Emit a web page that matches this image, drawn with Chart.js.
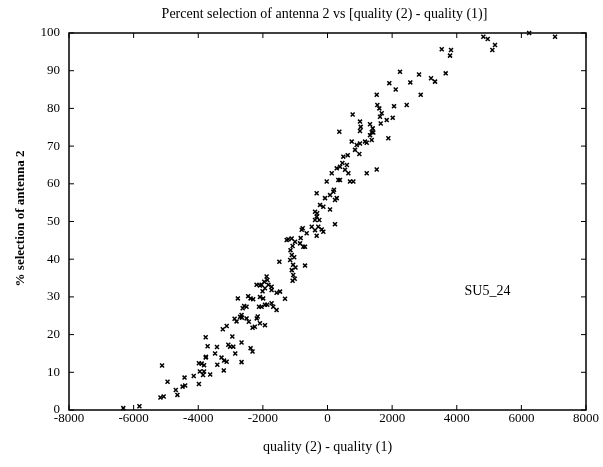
<!DOCTYPE html>
<html>
<head>
<meta charset="utf-8">
<script src="https://cdn.jsdelivr.net/npm/chart.js@4/dist/chart.umd.min.js"></script>
<style>
html, body { margin: 0; padding: 0; background: #fff; }
</style>
</head>
<body>
<canvas id="grafico" width="603" height="467"></canvas>
<script>
// valores: diferenca de qualidade (x) e % de selecao da antena 2 (y)
var qualityDiff = [
  -6320, -5820, -5170, -5070, -5120, -4950, -4695, -4645, -4485, -4405,
  -4425, -4140, -3980, -3980, -3895, -3820, -3950, -3820, -3850, -3770,
  -3630, -3770, -3710, -3760, -3480, -3420, -3410, -3280, -3200, -3120,
  -3210, -3240, -3120, -2945, -3070, -3015, -2915, -2855, -2875, -2815,
  -2660, -2660, -2775, -2625, -2580, -2660, -2650, -2705, -2505, -2435,
  -2505, -2455, -2380, -2300, -2320, -2250, -2380, -2320, -2195, -2160,
  -2120, -2090, -1935, -2190, -2040, -1730, -1885, -1860, -1830, -1935,
  -2090, -1730, -1575, -1470, -1315, -2090, -1990, -1935, -1865, -1730,
  -1680, -1575, -2040, -1490, -1080, -695, -1145, -1105, -1155, -1065,
  -1105, -1060, -1015, -1264, -1109, -1006, -851, -749, -1213, -830,
  -696, -798, -645, -767, -488, -386, -335, -179, -129, -285,
  232, -386, -335, -254, -386, -320, -129, 78, -335, -77,
  78, 180, -232, 232, 286, 201, -24, 131, 334, 387,
  696, 800, 387, 542, 646, 286, 1214, 1523, 490, 626,
  852, 985, 749, 904, 1006, 1214, 1369, 1161, 366, 1006,
  1316, 1418, 1883, 779, 1006, 1028, 1316, 1399, 1368, 1678,
  1625, 1833, 2018, 1647, 1523, 1543, 1604, 2059, 2451, 1913,
  2111, 2563, 2885, 2244, 2833, 3204, 3327, 3658, 3535, 3823,
  3792, 4823, 4959, 5102, 5184, 6240, 7042,
  -1030, -1080, -990, -2010, -1960, 460, 600
];
var percentSel = [
  0.5, 1, 3.3, 3.6, 11.8, 7.5, 5.3, 4, 6.2, 6.5,
  8.6, 9, 6.9, 12.4, 12.3, 11.9, 10.2, 10.2, 9.3, 13.9,
  9.4, 19.3, 16.9, 14.1, 15, 16.7, 12, 13.9, 13.1, 12.8,
  10.5, 21.4, 22.3, 19.5, 17.3, 16.8, 16.8, 15, 24.2, 23.5,
  17.9, 12.7, 29.6, 27, 27.6, 25.2, 24.5, 24.7, 24.3, 23.4,
  27.4, 30.2, 29.6, 29.4, 21.8, 22.1, 16.4, 15.5, 33.2, 24.8,
  27.4, 23, 22.5, 24.3, 33.2, 32.7, 35.4, 34.5, 33.2, 32.3,
  33, 31.8, 31.1, 31.4, 29.5, 30, 29.6, 27.9, 27.9, 28.3,
  27.4, 26.5, 27.4, 39.3, 34.3, 38.3, 42.4, 41.1, 39.8, 38.5,
  37.1, 35.8, 34.8, 45.1, 45.5, 44.6, 44.2, 43.3, 45.3, 45.6,
  43.3, 47.8, 46.9, 48.2, 48.6, 47.7, 46.2, 47.9, 47.3, 48.6,
  49.3, 52.6, 51.3, 50.4, 50.4, 52.2, 53.9, 53.2, 57.5, 56.2,
  57, 57.9, 54.4, 55.7, 56.2, 58.4, 60.6, 62.8, 61, 61,
  60.6, 60.6, 64.5, 63.7, 62.8, 64.1, 62.8, 63.8, 67.2, 67.6,
  69, 67.9, 71.2, 70.3, 70.7, 70.9, 71.6, 71.2, 73.8, 74,
  72.9, 73.6, 72.1, 78.4, 76.5, 75.1, 75.8, 74.7, 73.7, 78.7,
  77.8, 76.9, 77.5, 76, 83.6, 80.9, 80, 80.6, 80.9, 86.7,
  85, 86.9, 83.6, 89.7, 89, 88, 87.1, 89.3, 95.7, 95.5,
  94, 99, 98.4, 95.5, 96.8, 100, 99,
  40.5, 43.5, 37.8, 31.5, 34, 65.5, 65
];
var xTicks = [-8000, -6000, -4000, -2000, 0, 2000, 4000, 6000, 8000];
var yTicks = [0, 10, 20, 30, 40, 50, 60, 70, 80, 90, 100];
var chartTitle = 'Percent selection of antenna 2 vs [quality (2) - quality (1)]';
var yTitle = '% selection of antenna 2';
var runLabel = 'SU5_24';
var runLabelPos = [4950, 31.5];

var pontos = qualityDiff.map(function (x, i) {
    return { x: x, y: percentSel[i] };
});

var fonte = 'Liberation Serif';

// moldura com marcas para dentro, titulo, rotulo do eixo y e texto SU5_24
var moldura = {
    id: 'moldura',
    afterDraw: function (chart) {
        var ctx = chart.ctx;
        var a = chart.chartArea;
        var sx = chart.scales.x, sy = chart.scales.y;
        ctx.save();
        ctx.strokeStyle = '#000';
        ctx.lineWidth = 1.5;
        ctx.strokeRect(a.left, a.top, a.right - a.left, a.bottom - a.top);
        ctx.lineWidth = 1;
        ctx.beginPath();
        xTicks.forEach(function (v) {
            var px = sx.getPixelForValue(v);
            ctx.moveTo(px, a.bottom); ctx.lineTo(px, a.bottom - 5);
            ctx.moveTo(px, a.top); ctx.lineTo(px, a.top + 5);
        });
        yTicks.forEach(function (v) {
            var py = sy.getPixelForValue(v);
            ctx.moveTo(a.left, py); ctx.lineTo(a.left + 5, py);
            ctx.moveTo(a.right, py); ctx.lineTo(a.right - 5, py);
        });
        ctx.stroke();

        ctx.fillStyle = '#000';
        ctx.textAlign = 'center';
        ctx.textBaseline = 'middle';
        ctx.font = '14px "' + fonte + '"';
        ctx.fillText(chartTitle, (a.left + a.right) / 2 - 3, 14);
        ctx.fillText(runLabel, sx.getPixelForValue(runLabelPos[0]), sy.getPixelForValue(runLabelPos[1]));

        ctx.translate(21, (a.top + a.bottom) / 2 - 3);
        ctx.rotate(-Math.PI / 2);
        ctx.font = 'bold 13px "' + fonte + '"';
        ctx.fillText(yTitle, 0, 0);
        ctx.restore();
    }
};

var ctx = document.getElementById('grafico').getContext('2d');

var grafico = new Chart(ctx, {
    type: 'scatter',
    data: {
        datasets: [{
            label: runLabel,
            data: pontos,
            pointStyle: 'crossRot',
            pointRadius: 2.8,
            pointBorderWidth: 1.5,
            borderColor: '#000',
            backgroundColor: '#000',
            clip: 4
        }]
    },
    options: {
        responsive: false,
        animation: false,
        devicePixelRatio: 1,
        layout: { padding: { left: 0, right: 17, top: 33, bottom: 0 } },
        plugins: {
            legend: { display: false },
            tooltip: { enabled: false },
            title: { display: false }
        },
        scales: {
            x: {
                type: 'linear',
                min: -8000,
                max: 8000,
                grid: { display: false, drawTicks: false },
                border: { display: false },
                ticks: {
                    stepSize: 2000,
                    color: '#000',
                    padding: 1,
                    maxRotation: 0,
                    font: { family: fonte, size: 13 },
                    callback: function (v) { return String(v); }
                },
                title: {
                    display: true,
                    text: 'quality (2) - quality (1)',
                    color: '#000',
                    font: { family: fonte, size: 14 },
                    padding: { top: 0, bottom: 11.6 }
                },
                afterFit: function (s) { s.height = 57; }
            },
            y: {
                type: 'linear',
                min: 0,
                max: 100,
                grid: { display: false, drawTicks: false },
                border: { display: false },
                ticks: {
                    stepSize: 10,
                    color: '#000',
                    padding: 9,
                    font: { family: fonte, size: 13 },
                    callback: function (v) { return String(v); }
                },
                afterFit: function (s) { s.width = 69; }
            }
        }
    },
    plugins: [moldura]
});
</script>
</body>
</html>
